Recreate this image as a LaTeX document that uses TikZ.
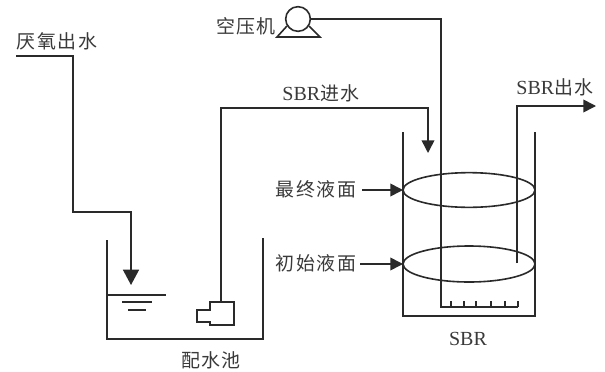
\documentclass[tikz,border=0pt]{standalone}
\usepackage{fontspec}
\setmainfont{Liberation Serif}
\newfontfamily\cjk[LetterSpace=8]{Noto Sans CJK SC}
\usetikzlibrary{arrows.meta,shapes.geometric}
\definecolor{ink}{HTML}{2A2A2A}
\definecolor{txt}{HTML}{3A3A3A}
\newcommand{\lat}[1]{{\fontsize{15pt}{17pt}\selectfont #1}}
\tikzset{
  pipe/.style={draw=ink,line width=1.2pt,line join=miter},
  flow/.style={pipe,-{Triangle[length=9.5pt,width=9.5pt]}},
  bigflow/.style={pipe,-{Triangle[length=11.5pt,width=12pt]}},
  thin part/.style={draw=ink,line width=1pt},
  lbl/.style={text=txt,font=\fontsize{14.2pt}{17pt}\selectfont,inner sep=0pt}
}
\begin{document}
\begin{tikzpicture}[x=0.75pt,y=-0.75pt]
\useasboundingbox (0,0) rectangle (605,371);
\fill[white] (0,0) rectangle (605,371);
% labels
\node[lbl] (anaerobic) at (57,41) {\cjk 厌氧出水};
\node[lbl] (air) at (246,26) {\cjk 空压机};
\node[lbl] (inlet) at (321,93) {\lat{SBR}{\cjk 进水}};
\node[lbl] (outlet) at (555,87) {\lat{SBR}{\cjk 出水}};
\node[lbl] (final) at (316,189) {\cjk 最终液面};
\node[lbl] (initial) at (316,263) {\cjk 初始液面};
\node[lbl] (mixtank) at (211,360) {\cjk 配水池};
\node[lbl] (sbrname) at (468,339) {\lat{SBR}};
% mixing tank
\coordinate (mL) at (107,240);
\coordinate (mBL) at (107,339);
\coordinate (mBR) at (263,339);
\coordinate (mR) at (263,238);
\draw[pipe] (mL) -- (mBL) -- (mBR) -- (mR);
\coordinate (wA) at (107,295);
\coordinate (wB) at (166,295);
\draw[thin part] (wA) -- (wB);
\coordinate (wC) at (122,302);
\coordinate (wD) at (152,302);
\draw[thin part] (wC) -- (wD);
\coordinate (wE) at (128,310);
\coordinate (wF) at (146,310);
\draw[thin part] (wE) -- (wF);
% anaerobic feed
\coordinate (a0) at (16,56);
\coordinate (a1) at (73,56);
\coordinate (a2) at (73,212);
\coordinate (a3) at (131,212);
\coordinate (a4) at (131,285);
\draw[bigflow] (a0) -- (a1) -- (a2) -- (a3) -- (a4);
% pump
\coordinate (pTop) at (221,302);
\draw[pipe] (234,302) -- (210,302) -- (210,310) -- (197,310) -- (197,322) -- (210,322) -- (210,325) -- (234,325) -- cycle;
% SBR inlet
\coordinate (i1) at (221,108);
\coordinate (i2) at (428,108);
\coordinate (i3) at (428,153);
\draw[flow] (pTop) -- (i1) -- (i2) -- (i3);
% SBR tank
\coordinate (sL) at (403,132);
\coordinate (sBL) at (403,316);
\coordinate (sBR) at (535,316);
\coordinate (sR) at (535,132);
\draw[pipe] (sL) -- (sBL) -- (sBR) -- (sR);
% levels
\node[draw=ink,line width=1.2pt,ellipse,minimum width=99pt,minimum height=26pt,inner sep=0pt] (upper) at (469,190) {};
\node[draw=ink,line width=1.2pt,ellipse,minimum width=99pt,minimum height=27pt,inner sep=0pt] (lower) at (469,264) {};
\coordinate (fa) at (362,190);
\coordinate (fb) at (403,190);
\draw[flow] (fa) -- (fb);
\coordinate (ia) at (360,264);
\coordinate (ib) at (403,264);
\draw[flow] (ia) -- (ib);
% compressor
\node[draw=ink,line width=1.2pt,circle,minimum size=18.5pt,inner sep=0pt] (comp) at (298,19) {};
\coordinate (t1) at (287,26);
\coordinate (t2) at (277,37);
\coordinate (t3) at (320,37);
\coordinate (t4) at (309,26);
\draw[pipe] (t1) -- (t2) -- (t3) -- (t4);
% air pipe and diffuser
\coordinate (p1) at (441,19);
\coordinate (p2) at (441,307);
\coordinate (p3) at (518,307);
\draw[pipe] (comp.east) -- (p1) -- (p2) -- (p3);
\foreach \x in {451,464,476,491,505,518}{
  \coordinate (tk\x) at (\x,301);
  \coordinate (tb\x) at (\x,307);
  \draw[thin part] (tk\x) -- (tb\x);
}
% outlet
\coordinate (o0) at (517,263);
\coordinate (o1) at (517,106);
\coordinate (o2) at (596,106);
\draw[flow] (o0) -- (o1) -- (o2);
\end{tikzpicture}
\end{document}
